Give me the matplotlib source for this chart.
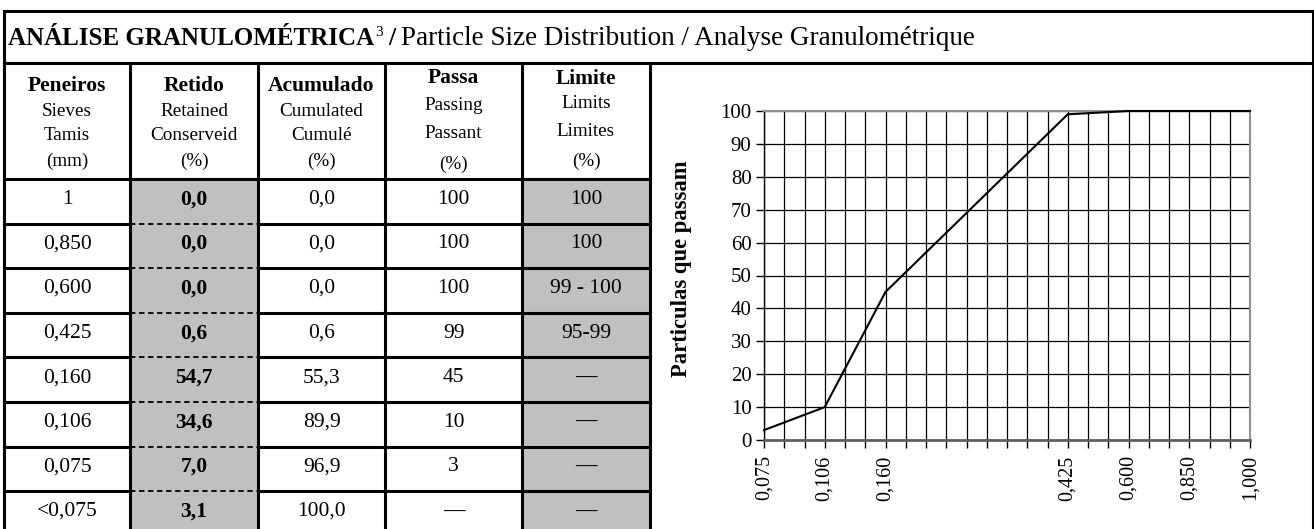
import matplotlib
matplotlib.use("Agg")
import matplotlib.pyplot as plt
from matplotlib.patches import Rectangle

plt.rcParams['font.family'] = ['Liberation Serif', 'DejaVu Serif']

# ---------------- data ----------------
title_bold = "ANÁLISE GRANULOMÉTRICA"
title_sup = "3"
title_rest = "Particle Size Distribution / Analyse Granulométrique"

header_bold = ["Peneiros", "Retido", "Acumulado", "Passa", "Limite"]
header_l2 = ["Sieves", "Retained", "Cumulated", "Passing", "Limits"]
header_l3 = ["Tamis", "Conserveid", "Cumulé", "Passant", "Limites"]
header_l4 = ["(mm)", "(%)", "(%)", "(%)", "(%)"]

sieves = ["1", "0,850", "0,600", "0,425", "0,160", "0,106", "0,075", "<0,075"]
retained = ["0,0", "0,0", "0,0", "0,6", "54,7", "34,6", "7,0", "3,1"]
cumulated = ["0,0", "0,0", "0,0", "0,6", "55,3", "89,9", "96,9", "100,0"]
passing_txt = ["100", "100", "100", "99", "45", "10", "3", "—"]
limits = ["100", "100", "99 - 100", "95-99", "—", "—", "—", "—"]

chart_categories = ["0,075", "", "", "0,106", "", "", "0,160", "", "", "", "", "",
                    "", "", "", "0,425", "", "", "0,600", "", "", "0,850", "", "", "1,000"]
curve_sieves = ["0,075", "0,106", "0,160", "0,425", "0,600", "0,850", "1,000"]
curve_passing = [3, 10, 45, 99, 100, 100, 100]
y_ticks = [0, 10, 20, 30, 40, 50, 60, 70, 80, 90, 100]
y_label = "Particulas que passam"

# ---------------- figure ----------------
W, H = 1314, 529
fig = plt.figure(figsize=(W / 100, H / 100), dpi=100)
tab = fig.add_axes([0, 0, 1, 1])
tab.set_xlim(0, W)
tab.set_ylim(H, 0)
tab.axis('off')

col_x = [4, 130, 258, 385, 522, 650]
right_x = 1313
top_y = 11
title_y = 63
head_y = 179
row_h = 44.6
n_rows = len(sieves)
row_y = [head_y + i * row_h for i in range(n_rows + 1)]
gray = "#c0c0c0"

for ci in (1, 4):
    tab.add_patch(Rectangle((col_x[ci], head_y), col_x[ci + 1] - col_x[ci],
                            row_y[-1] - head_y, facecolor=gray, edgecolor='none', zorder=0))

lw = 2.2
tab.plot([col_x[0], right_x], [top_y, top_y], color='black', lw=lw)
tab.plot([col_x[0], right_x], [title_y, title_y], color='black', lw=lw)
tab.plot([col_x[0], col_x[0]], [top_y, H + 5], color='black', lw=lw)
tab.plot([right_x, right_x], [top_y, H + 5], color='black', lw=lw)
for x in col_x[1:]:
    tab.plot([x, x], [title_y, H + 5], color='black', lw=lw)
for y in row_y[:-1]:
    for ci in range(5):
        dashed = (ci == 1 and y != head_y)
        tab.plot([col_x[ci], col_x[ci + 1]], [y, y], color='black',
                 lw=1.3 if dashed else lw,
                 linestyle=(0, (3, 2)) if dashed else '-')

# title pieces
fig.canvas.draw()
renderer = fig.canvas.get_renderer()
inv = tab.transData.inverted()

def place(x, y, s, **kw):
    t = tab.text(x, y, s, va='baseline', ha='left', **kw)
    bb = t.get_window_extent(renderer=renderer)
    return inv.transform((bb.x1, bb.y0))[0]

base = 45
x = place(8, base, title_bold, fontsize=18, fontweight='bold')
x = place(x + 1, base - 9, title_sup, fontsize=11)
x = place(x + 5, base, "/", fontsize=18.5, fontweight='bold')
x = place(x + 6, base, title_rest, fontsize=19.5)

# header (line positions per column)
head_lines = [[86, 111, 136, 161]] * 3 + [[78, 105, 133, 164], [79, 104, 131, 161]]
for ci in range(5):
    cx = (col_x[ci] + col_x[ci + 1]) / 2
    ys = head_lines[ci]
    tab.text(cx, ys[0], header_bold[ci], ha='center', va='center', fontsize=15.5, fontweight='bold')
    tab.text(cx, ys[1], header_l2[ci], ha='center', va='center', fontsize=13.8)
    tab.text(cx, ys[2], header_l3[ci], ha='center', va='center', fontsize=13.8)
    tab.text(cx, ys[3], header_l4[ci], ha='center', va='center', fontsize=13.8)

# data rows
cols = [sieves, retained, cumulated, passing_txt, limits]
for r in range(n_rows):
    cy = (row_y[r] + row_y[r + 1]) / 2 - 2
    for ci, col in enumerate(cols):
        cx = (col_x[ci] + col_x[ci + 1]) / 2
        s = col[r]
        bold = (ci == 1) or (s == "—")
        tab.text(cx, cy, s, ha='center', va='center', fontsize=15.5,
                 fontweight='bold' if bold else 'normal')

# ---------------- chart ----------------
ax_l, ax_r, ax_t, ax_b = 764, 1250, 111, 440
ax = fig.add_axes([ax_l / W, (H - ax_b) / H, (ax_r - ax_l) / W, (ax_b - ax_t) / H])
n_cat = len(chart_categories)
xpos = [chart_categories.index(s) for s in curve_sieves]
ax.plot(xpos, curve_passing, color='black', lw=1.5, zorder=3, clip_on=False)
ax.set_xlim(0, n_cat - 1)
ax.set_ylim(0, 100)
ax.set_xticks(range(n_cat))
ax.set_xticklabels(chart_categories, rotation=90, fontsize=14.5)
ax.set_yticks(y_ticks)
ax.set_yticklabels([str(v) for v in y_ticks], fontsize=15)
ax.tick_params(axis='both', direction='out', length=6, width=1, color='black')
ax.tick_params(axis='x', pad=5)
ax.tick_params(axis='y', pad=3)
ax.grid(True, color='black', lw=0.9)
ax.set_axisbelow(True)
ax.spines['bottom'].set_color('#606060')
ax.spines['bottom'].set_linewidth(2)
ax.spines['top'].set_color('#909090')
ax.spines['top'].set_linewidth(1.5)
ax.spines['right'].set_color('#909090')
ax.spines['right'].set_linewidth(1.5)
ax.spines['left'].set_color('black')
ax.spines['left'].set_linewidth(1)
ax.set_ylabel(y_label, fontsize=16.3, fontweight='bold')
ax.yaxis.set_label_coords(-(ax_l - 692) / (ax_r - ax_l), 0.52)

fig.savefig("out.png", dpi=100)
